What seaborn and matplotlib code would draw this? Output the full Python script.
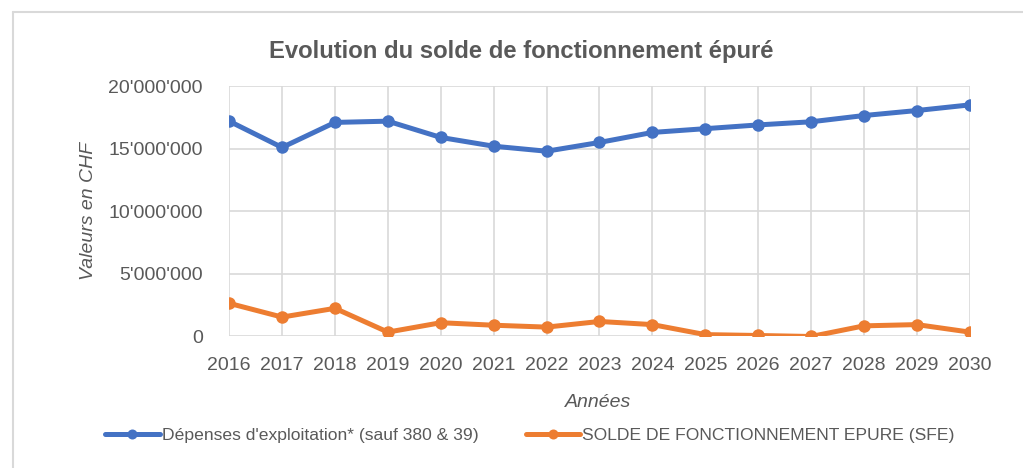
import pandas as pd
import matplotlib.pyplot as plt
import seaborn as sns
from matplotlib.lines import Line2D
from matplotlib.ticker import FuncFormatter

# Data (millions of CHF)
years = list(range(2016, 2031))
depenses = [17.2, 15.1, 17.1, 17.2, 15.9, 15.2, 14.8, 15.5, 16.3, 16.6, 16.9, 17.15, 17.65, 18.05, 18.5]
solde = [2.65, 1.55, 2.25, 0.35, 1.1, 0.9, 0.75, 1.2, 0.95, 0.15, 0.08, 0.0, 0.85, 0.95, 0.35]

label_dep = "Dépenses d'exploitation* (sauf 380 & 39)"
label_sfe = "SOLDE DE FONCTIONNEMENT EPURE (SFE)"

blue = "#4472C4"
orange = "#ED7D31"
grey_text = "#595959"
grid_col = "#D9D9D9"

sns.set_theme(style="white")
plt.rcParams["font.family"] = ["Liberation Sans", "DejaVu Sans"]


def fmt(v, pos):
    return f"{int(round(v)):,}".replace(",", "'")


def main():
    df = pd.DataFrame({
        "year": years * 2,
        "value": [v * 1e6 for v in depenses] + [v * 1e6 for v in solde],
        "serie": [label_dep] * len(years) + [label_sfe] * len(years),
    })

    fig = plt.figure(figsize=(10.23, 4.68), dpi=100)
    ax = fig.add_axes([0.224, 0.281, 0.724, 0.535])

    sns.lineplot(
        data=df, x="year", y="value", hue="serie",
        palette=[blue, orange], marker="o", markersize=9,
        markeredgewidth=0, linewidth=3.6, ax=ax,
    )

    ax.set_xlim(2016, 2030)
    ax.set_ylim(0, 20e6)
    ax.set_xticks(years)
    ax.set_yticks([0, 5e6, 10e6, 15e6, 20e6])
    ax.yaxis.set_major_formatter(FuncFormatter(fmt))
    ax.tick_params(axis="both", labelsize=14, colors=grey_text, length=0)
    ax.tick_params(axis="x", pad=15)
    ax.tick_params(axis="y", pad=19)
    ax.grid(True, color=grid_col, linewidth=1.2)
    ax.set_axisbelow(True)
    for s in ax.spines.values():
        s.set_visible(False)

    ax.set_xlabel("Années", fontsize=14, style="italic", color=grey_text)
    ax.set_ylabel("Valeurs en CHF", fontsize=14, style="italic", color=grey_text)
    ax.xaxis.set_label_coords(0.498, -0.262)
    ax.xaxis.label.set_va("center")
    ax.yaxis.set_label_coords(-0.19, 0.5)
    ax.yaxis.label.set_va("center")

    fig.text(0.51, 0.889, "Evolution du solde de fonctionnement épuré",
             ha="center", va="center", fontsize=17.2, fontweight="bold", color=grey_text)

    handles, labels = ax.get_legend_handles_labels()
    ax.legend(handles, labels, loc="center", bbox_to_anchor=(0.518, 0.07),
              bbox_transform=fig.transFigure, ncol=2, frameon=False,
              fontsize=12.6, labelcolor=grey_text, handlelength=3.1,
              handletextpad=0.12, columnspacing=2.7, markerscale=0.8)

    # outer chart-area border (left and top edges visible)
    fig.add_artist(Line2D([13 / 1023, 13 / 1023], [0, 1 - 12 / 468], color=grid_col, lw=1.5))
    fig.add_artist(Line2D([13 / 1023, 1], [1 - 12 / 468, 1 - 12 / 468], color=grid_col, lw=1.5))

    fig.savefig("out.png", dpi=100)


if __name__ == "__main__":
    main()
